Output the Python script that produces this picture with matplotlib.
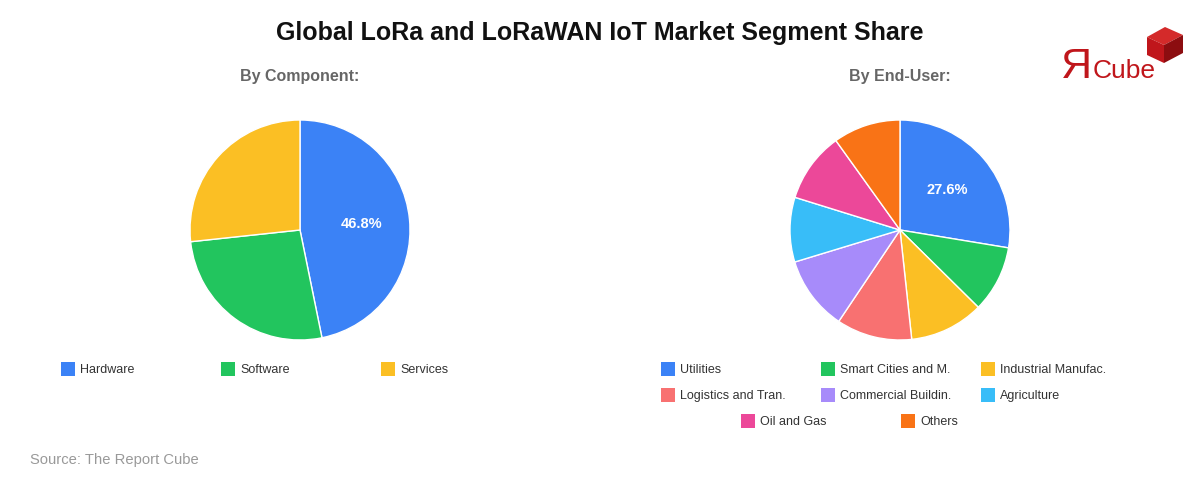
import matplotlib.pyplot as plt
from matplotlib.patches import Rectangle, Polygon

plt.rcParams['font.family'] = ['Liberation Sans', 'DejaVu Sans']

# data
component_labels = ['Hardware', 'Software', 'Services']
component_share = [46.8, 26.5, 26.7]
component_colors = ['#3b82f6', '#22c55e', '#fbbf24']

enduser_labels = ['Utilities', 'Smart Cities and M.', 'Industrial Manufac.',
                  'Logistics and Tran.', 'Commercial Buildin.', 'Agriculture',
                  'Oil and Gas', 'Others']
enduser_share = [27.6, 9.8, 10.9, 11.1, 10.9, 9.5, 10.3, 9.9]
enduser_colors = ['#3b82f6', '#22c55e', '#fbbf24', '#f87171',
                  '#a78bfa', '#38bdf8', '#ec4899', '#f97316']

W, H = 1200, 480
fig = plt.figure(figsize=(12, 4.8), dpi=100)


def px_axes(cx, cy, r):
    # axes box in pixel coords (y from top)
    return fig.add_axes([(cx - r) / W, (H - cy - r) / H, 2 * r / W, 2 * r / H])


def draw_pie(cx, cy, values, colors):
    ax = px_axes(cx, cy, 110)
    wedges, texts, autotexts = ax.pie(
        values, colors=colors, startangle=90, counterclock=False,
        radius=1, autopct='%1.1f%%', pctdistance=0.56,
        wedgeprops=dict(edgecolor='white', linewidth=1),
        textprops=dict(color='white', fontsize=10.5, fontweight='bold'))
    # only the largest slice gets a label
    for i, t in enumerate(autotexts):
        if i != 0:
            t.set_visible(False)
    ax.set_xlim(-1, 1)
    ax.set_ylim(-1, 1)
    ax.set_aspect('equal')
    ax.axis('off')


def draw_legend(rows, labels, colors):
    k = 0
    for row_x, row_y, n in rows:
        for j in range(n):
            x = row_x + j * 160
            fig.add_artist(Rectangle((x / W, (H - row_y - 7) / H), 14 / W, 14 / H,
                                     transform=fig.transFigure,
                                     facecolor=colors[k], edgecolor='none'))
            fig.text((x + 19) / W, (H - row_y - 1) / H, labels[k], fontsize=9,
                     color='#333333', va='center', ha='left')
            k += 1


draw_pie(300, 230, component_share, component_colors)
draw_pie(900, 230, enduser_share, enduser_colors)

draw_legend([(61, 369, 3)], component_labels, component_colors)
draw_legend([(661, 369, 3), (661, 395, 3), (741, 421, 2)],
            enduser_labels, enduser_colors)

fig.text(0.5, (H - 33) / H, 'Global LoRa and LoRaWAN IoT Market Segment Share',
         ha='center', va='center', fontsize=18, fontweight='bold', color='#111111')
fig.text(300 / W, (H - 77) / H, 'By Component:', ha='center', va='center',
         fontsize=11.5, fontweight='bold', color='#666666')
fig.text(900 / W, (H - 77) / H, 'By End-User:', ha='center', va='center',
         fontsize=11.5, fontweight='bold', color='#666666')
fig.text(30 / W, (H - 460) / H, 'Source: The Report Cube', ha='left', va='center',
         fontsize=10.6, color='#999999')

# logo
fig.text(1061 / W, (H - 78) / H, 'Я', ha='left', va='baseline', fontsize=31,
         color='#c0161b')
fig.text(1093 / W, (H - 78) / H, 'Cube', ha='left', va='baseline', fontsize=19,
         color='#c0161b')


def pt(x, y):
    return (x / W, (H - y) / H)


fig.add_artist(Polygon([pt(1147, 37), pt(1165, 27), pt(1183, 35), pt(1164, 45)],
                       transform=fig.transFigure, facecolor='#d42a2a', edgecolor='none'))
fig.add_artist(Polygon([pt(1147, 37), pt(1164, 45), pt(1164, 63), pt(1147, 55)],
                       transform=fig.transFigure, facecolor='#c0161b', edgecolor='none'))
fig.add_artist(Polygon([pt(1164, 45), pt(1183, 35), pt(1183, 53), pt(1164, 63)],
                       transform=fig.transFigure, facecolor='#8c0d10', edgecolor='none'))

fig.savefig('out.png', dpi=100, facecolor='white')
